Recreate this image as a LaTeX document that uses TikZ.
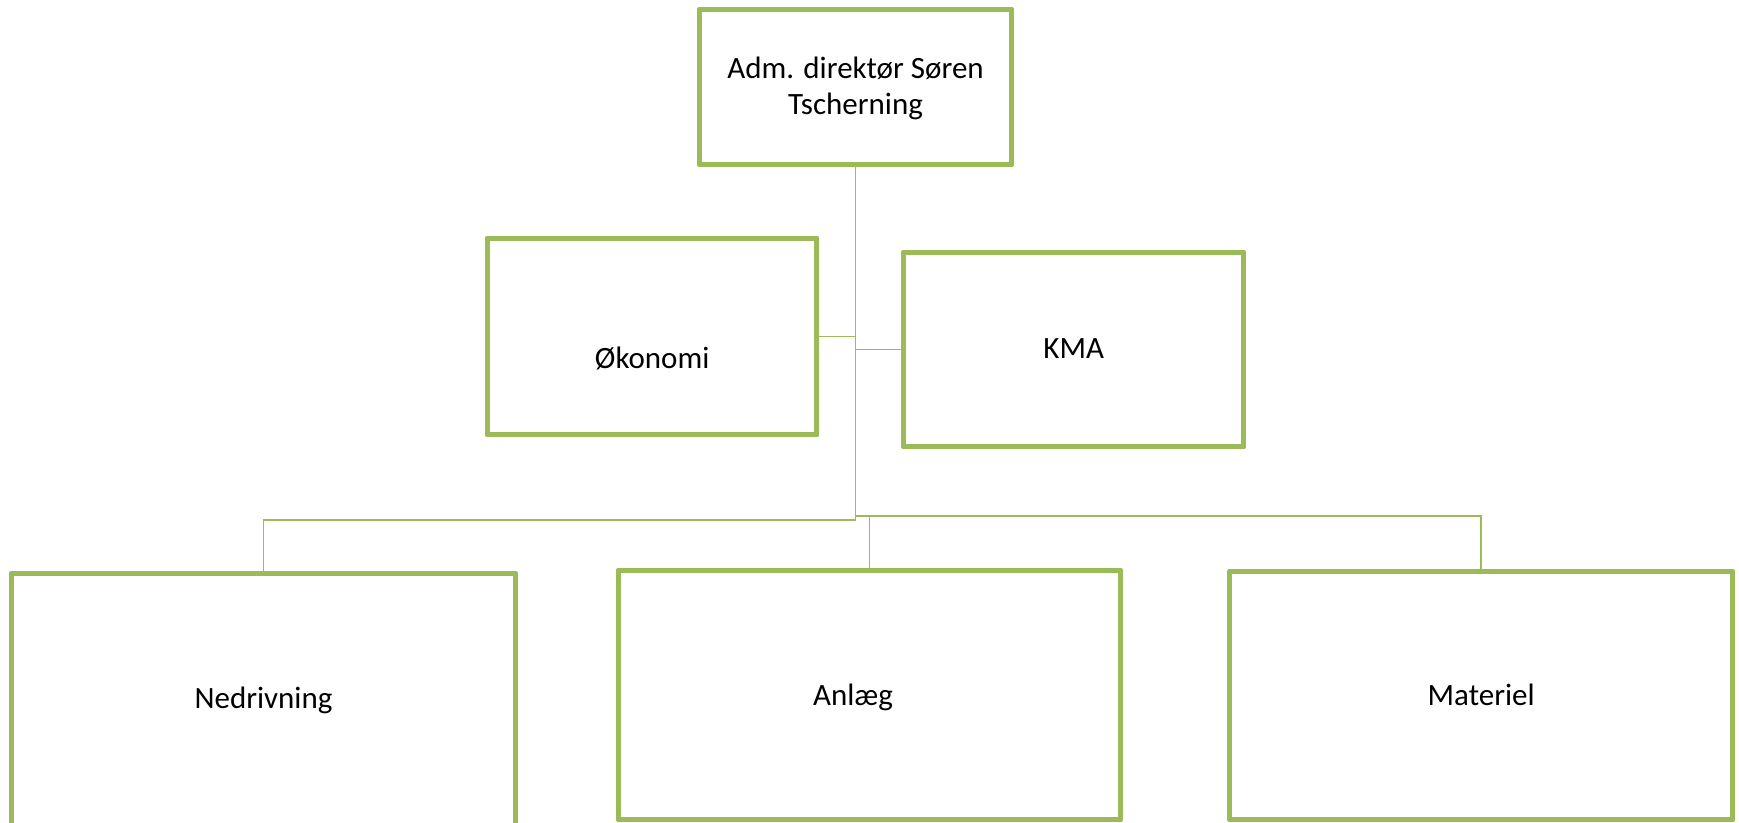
\documentclass[tikz,border=0pt]{standalone}
\usepackage{fontspec}
\setmainfont{Carlito}
\definecolor{boxgreen}{HTML}{9BBB59}
\tikzset{
  orgbox/.style={draw=boxgreen, line width=5pt, fill=white, inner sep=0pt, outer sep=0pt, shape=rectangle, line join=round},
  conn/.style={draw=boxgreen, line width=1.8pt},
  lbl/.style={text=black, font=\fontsize{31}{36}\selectfont, inner sep=0pt}
}
\begin{document}
\begin{tikzpicture}[x=1pt,y=-1pt]
\useasboundingbox (0,0) rectangle (1739,822);
\clip (0,0) rectangle (1739,822);
\fill[white] (0,0) rectangle (1739,822);
% boxes
\node[orgbox, minimum width=312pt, minimum height=155pt] (top) at (855.5,87) {};
\node[orgbox, minimum width=329.5pt, minimum height=196.5pt] (oko) at (652.2,336.5) {};
\node[orgbox, minimum width=340.5pt, minimum height=194pt] (kma) at (1073.7,349.5) {};
\node[orgbox, minimum width=504pt, minimum height=256pt] (ned) at (263.5,701.5) {};
\node[orgbox, minimum width=502pt, minimum height=249pt] (anl) at (869.5,695) {};
\node[orgbox, minimum width=502.5pt, minimum height=248pt] (mat) at (1481.2,695.5) {};
% junctions
\coordinate (jl) at (855.5,520);
\coordinate (jr) at (855.5,515.7);
% connectors
\draw[conn] (top.south) -- (jl) -| (ned.north);
\draw[conn] (jr) -| (anl.north);
\draw[conn] (jr) -| (mat.north);
\draw[conn] (oko.east) -- (oko.east -| jl);
\draw[conn] (kma.west) -- (kma.west -| jl);
% redraw boxes' borders over connector ends
\foreach \n in {top,oko,kma,ned,anl,mat}{
  \draw[boxgreen, line width=5pt, line join=round] (\n.north west) rectangle (\n.south east);
}
% labels
\node[lbl, align=center] (ttop) at (855.5,88) {Adm. direktør Søren\\Tscherning};
\node[lbl, anchor=base] (toko) at (652.2,368) {Økonomi};
\node[lbl, anchor=base] (tkma) at (1073.7,358) {KMA};
\node[lbl, anchor=base] (tned) at (263.5,708) {Nedrivning};
\node[lbl, anchor=base] (tanl) at (853,705) {Anlæg};
\node[lbl, anchor=base] (tmat) at (1481.2,705) {Materiel};
\end{tikzpicture}
\end{document}
